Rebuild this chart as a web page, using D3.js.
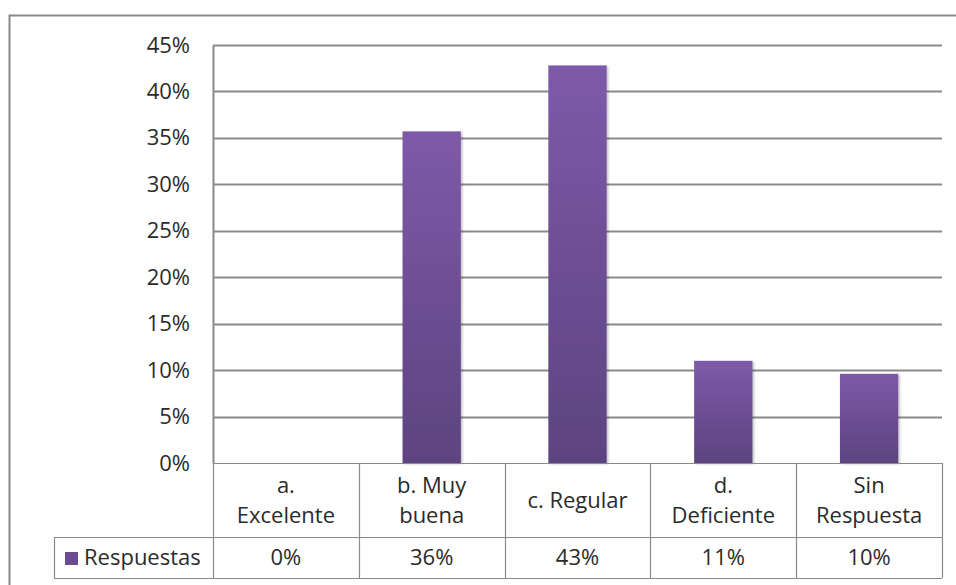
<!DOCTYPE html>
<html>
<head>
<meta charset="utf-8">
<script src="https://cdn.jsdelivr.net/npm/d3@7"></script>
<style>
  html, body { margin: 0; padding: 0; background: #fff; }
  svg { display: block; }
  text { font-family: "Open Sans", Lato, sans-serif; fill: #2b2b2b; }
</style>
</head>
<body>
<svg id="chart" width="956" height="585"></svg>
<script>
// Category labels (each split into its display lines) and series values
const categories = ["a. Excelente", "b. Muy buena", "c. Regular", "d. Deficiente", "Sin Respuesta"];
const categoryLines = [["a.", "Excelente"], ["b. Muy", "buena"], ["c. Regular"], ["d.", "Deficiente"], ["Sin", "Respuesta"]];
const seriesName = "Respuestas";
const respuestas = [0, 0.357, 0.428, 0.11, 0.096];
const yTicks = [0, 0.05, 0.10, 0.15, 0.20, 0.25, 0.30, 0.35, 0.40, 0.45];

const svg = d3.select("#chart");
const W = 956, H = 585;
const FONT = "22px";

const plot = { left: 213, right: 942, top: 45, bottom: 463 };
const tableRow1 = 537, tableRow2 = 578, legendLeft = 54;

const x = d3.scaleBand().domain(categories).range([plot.left, plot.right]).paddingInner(0.6).paddingOuter(0.3);
const xCell = d3.scaleBand().domain(categories).range([plot.left, plot.right]);
const y = d3.scaleLinear().domain([0, 0.45]).range([plot.bottom, plot.top]);
const pct = d3.format(".0%");

const defs = svg.append("defs");
const grad = defs.append("linearGradient").attr("id", "barFill")
  .attr("x1", 0).attr("y1", 0).attr("x2", 0).attr("y2", 1);
grad.append("stop").attr("offset", "0%").attr("stop-color", "#7d5aa8");
grad.append("stop").attr("offset", "100%").attr("stop-color", "#5d4380");
const shadow = defs.append("filter").attr("id", "barShadow")
  .attr("x", "-20%").attr("y", "-10%").attr("width", "140%").attr("height", "120%");
shadow.append("feDropShadow").attr("dx", 1.5).attr("dy", 1).attr("stdDeviation", 1.2)
  .attr("flood-color", "#000").attr("flood-opacity", 0.25);

// Outer chart frame
svg.append("rect").attr("x", 9.5).attr("y", 15.5).attr("width", W + 20).attr("height", H + 20)
  .attr("fill", "none").attr("stroke", "#8a8a8a").attr("stroke-width", 2);

// Horizontal gridlines
svg.append("g").selectAll("line").data(yTicks.slice(1)).join("line")
  .attr("x1", plot.left).attr("x2", plot.right)
  .attr("y1", d => Math.round(y(d)) + 0.5).attr("y2", d => Math.round(y(d)) + 0.5)
  .attr("stroke", "#8a8a8a").attr("stroke-width", 2);

// Y axis
const yAxis = svg.append("g").attr("transform", `translate(${plot.left},0)`)
  .call(d3.axisLeft(y).tickValues(yTicks).tickFormat(pct).tickSize(0).tickPadding(23));
yAxis.select(".domain").attr("stroke", "#8a8a8a").attr("stroke-width", 2);
yAxis.selectAll("text").style("font-size", FONT).style("font-family", "'Open Sans', sans-serif").attr("fill", "#2b2b2b");

// Bars
svg.append("g").selectAll("rect").data(respuestas).join("rect")
  .attr("x", (d, i) => x(categories[i]))
  .attr("width", x.bandwidth())
  .attr("y", d => y(d))
  .attr("height", d => y(0) - y(d))
  .attr("fill", "url(#barFill)")
  .attr("filter", "url(#barShadow)");

// Data table
const tbl = svg.append("g").attr("stroke", "#8a8a8a").attr("stroke-width", 1.2).attr("fill", "none");
tbl.append("line").attr("x1", plot.left).attr("x2", plot.right).attr("y1", plot.bottom + 0.5).attr("y2", plot.bottom + 0.5);
tbl.append("line").attr("x1", legendLeft).attr("x2", plot.right).attr("y1", tableRow1 + 0.5).attr("y2", tableRow1 + 0.5);
tbl.append("line").attr("x1", legendLeft).attr("x2", plot.right).attr("y1", tableRow2 + 0.5).attr("y2", tableRow2 + 0.5);
tbl.append("line").attr("x1", legendLeft + 0.5).attr("x2", legendLeft + 0.5).attr("y1", tableRow1).attr("y2", tableRow2);
const cellEdges = categories.map(c => xCell(c)).concat([plot.right]);
tbl.selectAll("line.v").data(cellEdges).join("line").attr("class", "v")
  .attr("x1", d => Math.round(d) + 0.5).attr("x2", d => Math.round(d) + 0.5)
  .attr("y1", plot.bottom).attr("y2", tableRow2);

// Category labels
const catG = svg.append("g");
categoryLines.forEach((lines, i) => {
  const cx = xCell(categories[i]) + xCell.bandwidth() / 2;
  const mid = (plot.bottom + tableRow1) / 2;
  const lh = 30;
  const t = catG.append("text").attr("text-anchor", "middle").style("font-size", FONT);
  lines.forEach((ln, k) => {
    t.append("tspan").attr("x", cx)
      .attr("y", mid + (k - (lines.length - 1) / 2) * lh)
      .attr("dy", "0.35em").text(ln);
  });
});

// Value row
svg.append("g").selectAll("text").data(respuestas).join("text")
  .attr("x", (d, i) => xCell(categories[i]) + xCell.bandwidth() / 2)
  .attr("y", (tableRow1 + tableRow2) / 2).attr("dy", "0.35em")
  .attr("text-anchor", "middle").style("font-size", FONT)
  .text(d => pct(d));

// Legend key in the table
svg.append("rect").attr("x", 65).attr("y", 552).attr("width", 13).attr("height", 13).attr("fill", "#6a4c93");
svg.append("text").attr("x", 84).attr("y", (tableRow1 + tableRow2) / 2).attr("dy", "0.35em")
  .style("font-size", FONT).text(seriesName);
</script>
</body>
</html>
